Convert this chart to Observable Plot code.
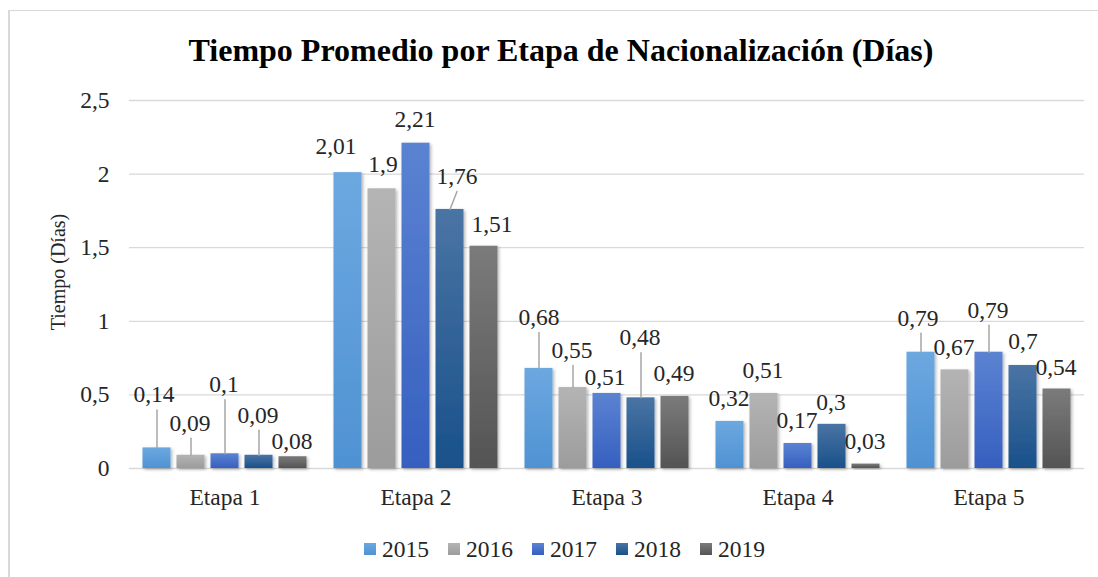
<!DOCTYPE html>
<html><head><meta charset="utf-8">
<script src="https://cdn.jsdelivr.net/npm/d3@7"></script>
<script src="https://cdn.jsdelivr.net/npm/@observablehq/plot@0.6"></script>
<style>
html,body{margin:0;padding:0;background:#fff;}
body{width:1098px;height:577px;position:relative;overflow:hidden;font-family:'Liberation Serif',serif;color:#262626;}
#frame{position:absolute;left:8px;top:10px;width:1200px;height:700px;border-left:2px solid #d9d9d9;border-top:1.5px solid #d9d9d9;}
#title{position:absolute;left:0;width:1122px;top:32px;text-align:center;font-family:'Liberation Serif',serif;font-weight:bold;font-size:32px;line-height:36px;color:#000;}
#ytitle{position:absolute;left:58px;top:272px;transform:translate(-50%,-50%) rotate(-90deg);white-space:nowrap;font-family:'Liberation Serif',serif;font-size:20px;line-height:24px;}
#chart{position:absolute;left:0;top:80px;}
#legend{position:absolute;left:364px;top:537px;display:flex;align-items:center;font-family:'Liberation Serif',serif;font-size:23.5px;line-height:24px;}
.item{display:flex;align-items:center;margin-right:19px;}
.sw{width:12px;height:12px;margin-right:6px;}
</style>
</head><body>
<div id="frame"></div>
<div id="title">Tiempo Promedio por Etapa de Nacionalización (Días)</div>
<div id="ytitle">Tiempo (Días)</div>
<div id="chart"></div>
<div id="legend"></div>
<script>
// ---- data ----
const etapas = ["Etapa 1", "Etapa 2", "Etapa 3", "Etapa 4", "Etapa 5"];
const years = ["2015", "2016", "2017", "2018", "2019"];
const v2015 = [0.14, 2.01, 0.68, 0.32, 0.79];
const v2016 = [0.09, 1.90, 0.55, 0.51, 0.67];
const v2017 = [0.10, 2.21, 0.51, 0.17, 0.79];
const v2018 = [0.09, 1.76, 0.48, 0.30, 0.70];
const v2019 = [0.08, 1.51, 0.49, 0.03, 0.54];
const yTicks = [0, 0.5, 1, 1.5, 2, 2.5];

// ---- layout: data-label offsets (px) relative to bar top, per year / etapa ----
const labelDx = [
  [-3, -12, 0, -1, -3],
  [-1, 1, -1, -1, -1],
  [-1, -1, -2, -1, -1],
  [-1, 7, -1, -1, 0],
  [-1, 8, -1, -1, -1]
];
const labelDy = [
  [-53, -26, -51, -23, -34],
  [-32, -24, -37, -23, -22],
  [-69, -24, -16, -23, -42],
  [-40, -33, -60, -22, -24],
  [-15, -22, -23, -23, -22]
];

// ---- styles ----
const FONT = "Liberation Serif";
const FS = 23.5;
const gradStops = {
  "2015": ["#6ca8e0", "#4f92d3"],
  "2016": ["#b4b4b4", "#9c9c9c"],
  "2017": ["#5b83d2", "#365fbf"],
  "2018": ["#4a74a4", "#19518a"],
  "2019": ["#7b7b7b", "#545454"]
};

const seriesValues = [v2015, v2016, v2017, v2018, v2019];
const rows = [];
years.forEach((yr, j) => etapas.forEach((et, i) => rows.push({
  etapa: et, year: yr, value: seriesValues[j][i], dx: labelDx[j][i], dy: labelDy[j][i]
})));
const fmt = v => String(+v.toFixed(2)).replace(".", ",");

const leaderShape = {draw(context, l) { context.moveTo(0, 0); context.lineTo(0, -l); }};
const leaders = rows.filter(r => r.dy < -28).map(r => {
  const ex = Math.abs(r.dx) >= 5 ? r.dx : 0;
  const ey = r.dy + 15;
  return {...r, len: Math.hypot(ex, ey), angle: Math.atan2(ex, -ey) * 180 / Math.PI};
});

const marks = [
  Plot.gridY(yTicks, {stroke: "#d9d9d9", strokeOpacity: 1, strokeWidth: 1.3}),
  ...years.map(yr => Plot.barY(rows.filter(r => r.year === yr), {
    fx: "etapa", x: "year", y: "value", fill: `url(#grad${yr})`
  })),
  ...leaders.map(r => Plot.vector([r], {
    fx: "etapa", x: "year", y: "value", length: r.len, rotate: r.angle, anchor: "start",
    shape: leaderShape, stroke: "#a6a6a6", strokeWidth: 1.5
  })),
  ...rows.map(r => Plot.text([r], {
    fx: "etapa", x: "year", y: "value", text: d => fmt(d.value), dx: r.dx, dy: r.dy,
    fontSize: FS, fontFamily: FONT, fill: "#262626"
  })),
  Plot.axisY(yTicks, {tickSize: 0, tickPadding: 20, tickFormat: fmt, fontSize: FS, fontFamily: FONT, label: null, fill: "#262626"}),
  Plot.axisFx({anchor: "bottom", tickSize: 0, tickPadding: 20, fontSize: FS, fontFamily: FONT, label: null, fill: "#262626"})
];

const plot = Plot.plot({
  width: 1098, height: 440,
  marginTop: 20, marginBottom: 52, marginLeft: 128.5, marginRight: 14.5,
  fx: {domain: etapas, padding: 0, label: null},
  x: {domain: years, paddingInner: 0.1765, paddingOuter: 0.397, axis: null},
  y: {domain: [0, 2.5], label: null},
  style: {fontFamily: FONT, fontSize: FS + "px", background: "transparent", color: "#262626"},
  marks
});

const svg = d3.select(plot);
svg.attr("font-family", FONT);
const defs = svg.insert("defs", ":first-child");
years.forEach(yr => {
  const g = defs.append("linearGradient").attr("id", `grad${yr}`)
    .attr("x1", 0).attr("y1", 0).attr("x2", 0).attr("y2", 1);
  g.append("stop").attr("offset", "0%").attr("stop-color", gradStops[yr][0]);
  g.append("stop").attr("offset", "100%").attr("stop-color", gradStops[yr][1]);
});
const f = defs.append("filter").attr("id", "shadow").attr("x", "-20%").attr("y", "-20%").attr("width", "150%").attr("height", "150%");
f.append("feDropShadow").attr("dx", 1.5).attr("dy", 1.5).attr("stdDeviation", 1.5)
  .attr("flood-color", "#000").attr("flood-opacity", 0.3);
svg.selectAll("g[fill^='url(#grad']").attr("filter", "url(#shadow)");

document.getElementById("chart").appendChild(plot);

const legend = d3.select("#legend");
years.forEach(yr => {
  const it = legend.append("div").attr("class", "item");
  it.append("div").attr("class", "sw").style("background", `linear-gradient(${gradStops[yr][0]}, ${gradStops[yr][1]})`);
  it.append("span").text(yr);
});
</script>
</body></html>
